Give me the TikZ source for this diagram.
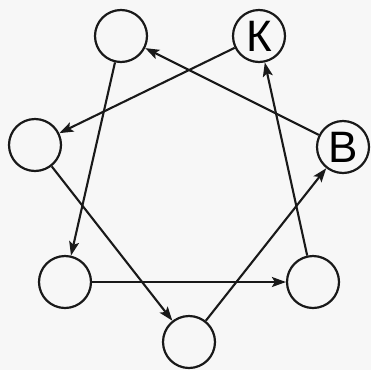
\documentclass[tikz,border=0pt]{standalone}
\usepackage{fontspec}
\setmainfont{Liberation Sans}
\usetikzlibrary{arrows.meta}
\begin{document}
\begin{tikzpicture}[x=1pt,y=-1pt,
  vert/.style={circle,draw=black!90,line width=2.2pt,minimum size=52pt,inner sep=0pt,font=\fontsize{44}{44}\selectfont},
  arr/.style={line width=2.1pt,draw=black!90,-{Stealth[length=14pt,width=10pt,inset=3pt]}}]
\fill[black!3] (0,0) rectangle (371,370);
\useasboundingbox (0,0) rectangle (371,370);
\node[vert] (tl) at (121,36) {};
\node[vert] (k) at (259,36) {К};
\node[vert] (l) at (35,145) {};
\node[vert] (b) at (343,147) {В};
\node[vert] (bl) at (65,282) {};
\node[vert] (br) at (313,282) {};
\node[vert] (bo) at (189,342) {};
\draw[arr] (k) -- (l);
\draw[arr] (b) -- (tl);
\draw[arr] (tl) -- (bl);
\draw[arr] (l) -- (bo);
\draw[arr] (bl) -- (br);
\draw[arr] (bo) -- (b);
\draw[arr] (br) -- (k);
\end{tikzpicture}
\end{document}
